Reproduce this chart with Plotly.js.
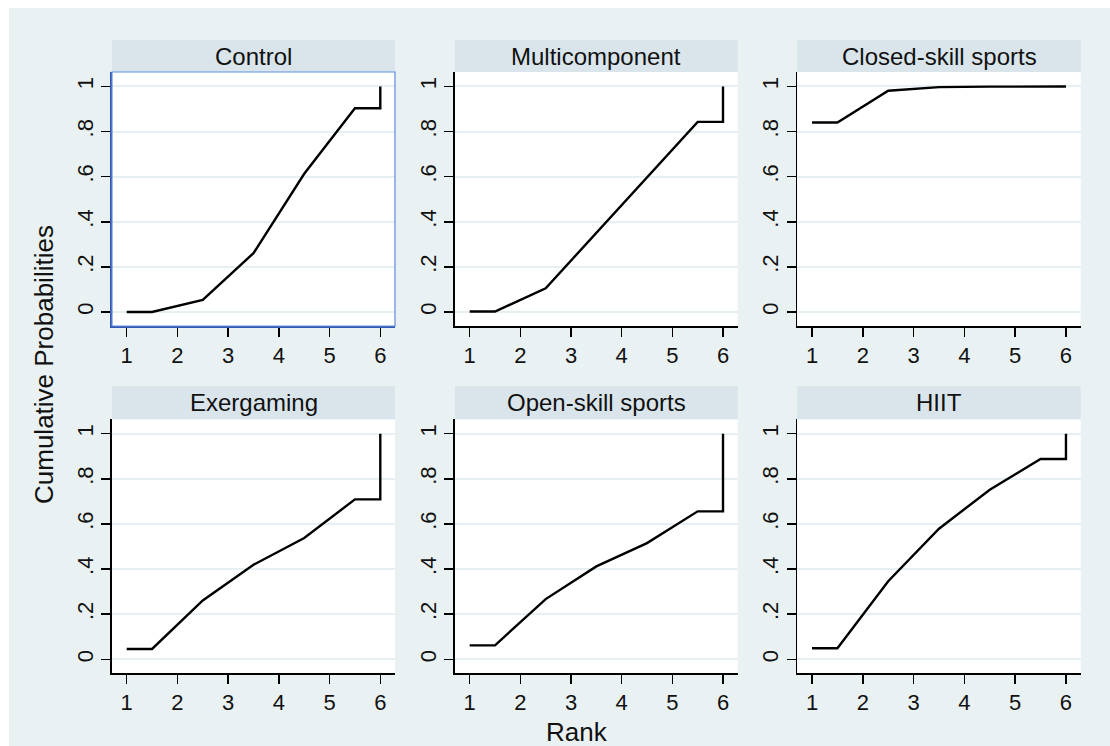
<!DOCTYPE html>
<html>
<head>
<meta charset="utf-8">
<script src="https://cdn.plot.ly/plotly-3.0.1.min.js"></script>
<style>
  html, body { margin: 0; padding: 0; background: #ffffff; }
  #chart { width: 1110px; height: 746px; }
</style>
</head>
<body>
<div id="chart"></div>
<script>
// Cumulative ranking probabilities per intervention (SUCRA-style step curves)
const rankPos = [1, 1.5, 2.5, 3.5, 4.5, 5.5, 6, 6];

const treatments = ['Control', 'Multicomponent', 'Closed-skill sports',
                    'Exergaming', 'Open-skill sports', 'HIIT'];

const control        = [0.000, 0.000, 0.054, 0.261, 0.613, 0.903, 0.903, 1];
const multicomponent = [0.002, 0.002, 0.105, 0.350, 0.597, 0.843, 0.843, 1];
const closedSkill    = [0.840, 0.840, 0.981, 0.997, 0.999, 1.000, 1.000, 1];
const exergaming     = [0.046, 0.046, 0.261, 0.419, 0.538, 0.709, 0.709, 1];
const openSkill      = [0.062, 0.062, 0.267, 0.412, 0.515, 0.656, 0.656, 1];
const hiit           = [0.049, 0.049, 0.346, 0.579, 0.752, 0.888, 0.888, 1];

const xTickVals = [1, 2, 3, 4, 5, 6];
const yTickVals = [0, 0.2, 0.4, 0.6, 0.8, 1];
const yTickText = ['0', '.2', '.4', '.6', '.8', '1'];

const series = [control, multicomponent, closedSkill, exergaming, openSkill, hiit];

// ---- page geometry (pixels) ----
const W = 1110, H = 746;
const colPx = [[112, 395], [455, 737.7], [797.3, 1080.7]];
const rowPx = [[72, 326], [419.3, 673.3]];       // plot area top/bottom
const headPx = [[40, 72], [386, 419.3]];         // strip header top/bottom
const px = v => v / W;
const py = v => (H - v) / H;

const FONT = 'Arial, "Liberation Sans", Helvetica, sans-serif';
const BG = '#eaf1f3';
const STRIP = '#d9e5eb';

const traces = [];
const layout = {
  width: W, height: H,
  margin: {l: 0, r: 0, t: 0, b: 0},
  paper_bgcolor: BG,
  plot_bgcolor: '#ffffff',
  showlegend: false,
  font: {family: FONT, color: '#111111'},
  shapes: [],
  annotations: []
};

// white frame outside the graph region
layout.shapes.push({type: 'rect', xref: 'paper', yref: 'paper', layer: 'below',
  x0: 0, x1: 1, y0: py(8), y1: 1, line: {width: 0}, fillcolor: '#ffffff'});
layout.shapes.push({type: 'rect', xref: 'paper', yref: 'paper', layer: 'below',
  x0: 0, x1: px(9), y0: 0, y1: 1, line: {width: 0}, fillcolor: '#ffffff'});

series.forEach((ys, i) => {
  const r = Math.floor(i / 3), c = i % 3;
  const n = i + 1;
  const xa = 'xaxis' + (n === 1 ? '' : n);
  const ya = 'yaxis' + (n === 1 ? '' : n);
  const axisColor = n === 1 ? '#3556b0' : '#000000';

  traces.push({
    type: 'scatter', mode: 'lines',
    x: rankPos, y: ys,
    xaxis: 'x' + (n === 1 ? '' : n), yaxis: 'y' + (n === 1 ? '' : n),
    line: {color: '#000000', width: 2.4},
    hoverinfo: 'x+y'
  });

  layout[xa] = {
    domain: [px(colPx[c][0]), px(colPx[c][1])],
    anchor: 'y' + (n === 1 ? '' : n),
    range: [0.71, 6.29],
    tickvals: xTickVals,
    ticks: 'outside', ticklen: 9, tickwidth: 1.5, tickcolor: '#000000',
    showline: true, linecolor: axisColor, linewidth: 1.6,
    showgrid: false, zeroline: false,
    tickfont: {family: FONT, size: 22, color: '#111111'},
    fixedrange: true
  };
  layout[ya] = {
    domain: [py(rowPx[r][1]), py(rowPx[r][0])],
    anchor: 'x' + (n === 1 ? '' : n),
    range: [-0.062, 1.064],
    tickvals: yTickVals, ticktext: yTickText,
    tickangle: -90,
    ticks: 'outside', ticklen: 9, tickwidth: 1.5, tickcolor: '#000000',
    showline: true, linecolor: axisColor, linewidth: 1.6,
    showgrid: true, gridcolor: '#e6eff2', gridwidth: 2,
    zeroline: false,
    tickfont: {family: FONT, size: 22, color: '#111111'},
    fixedrange: true
  };

  // strip header with the treatment name
  layout.shapes.push({type: 'rect', xref: 'paper', yref: 'paper',
    x0: px(colPx[c][0]), x1: px(colPx[c][1]),
    y0: py(headPx[r][1]), y1: py(headPx[r][0]),
    line: {width: 0}, fillcolor: STRIP});
  layout.annotations.push({xref: 'paper', yref: 'paper',
    x: px((colPx[c][0] + colPx[c][1]) / 2),
    y: py((headPx[r][0] + headPx[r][1]) / 2),
    xanchor: 'center', yanchor: 'middle', showarrow: false,
    text: treatments[i], font: {family: FONT, size: 24, color: '#111111'}});
});

// highlighted outline round the Control plot region
layout.shapes.push({type: 'rect', xref: 'paper', yref: 'paper',
  x0: px(colPx[0][0]), x1: px(colPx[0][1]),
  y0: py(rowPx[0][1]), y1: py(rowPx[0][0]),
  line: {color: '#5f8fe0', width: 1.2}, fillcolor: 'rgba(0,0,0,0)'});

// shared axis titles
layout.annotations.push({xref: 'paper', yref: 'paper', x: px(44), y: py(365),
  xanchor: 'center', yanchor: 'middle', showarrow: false, textangle: -90,
  text: 'Cumulative Probabilities', font: {family: FONT, size: 26, color: '#111111'}});
layout.annotations.push({xref: 'paper', yref: 'paper', x: px(577), y: py(732),
  xanchor: 'center', yanchor: 'middle', showarrow: false,
  text: 'Rank', font: {family: FONT, size: 26, color: '#111111'}});

Plotly.newPlot('chart', traces, layout, {displayModeBar: false, staticPlot: true});
</script>
</body>
</html>
